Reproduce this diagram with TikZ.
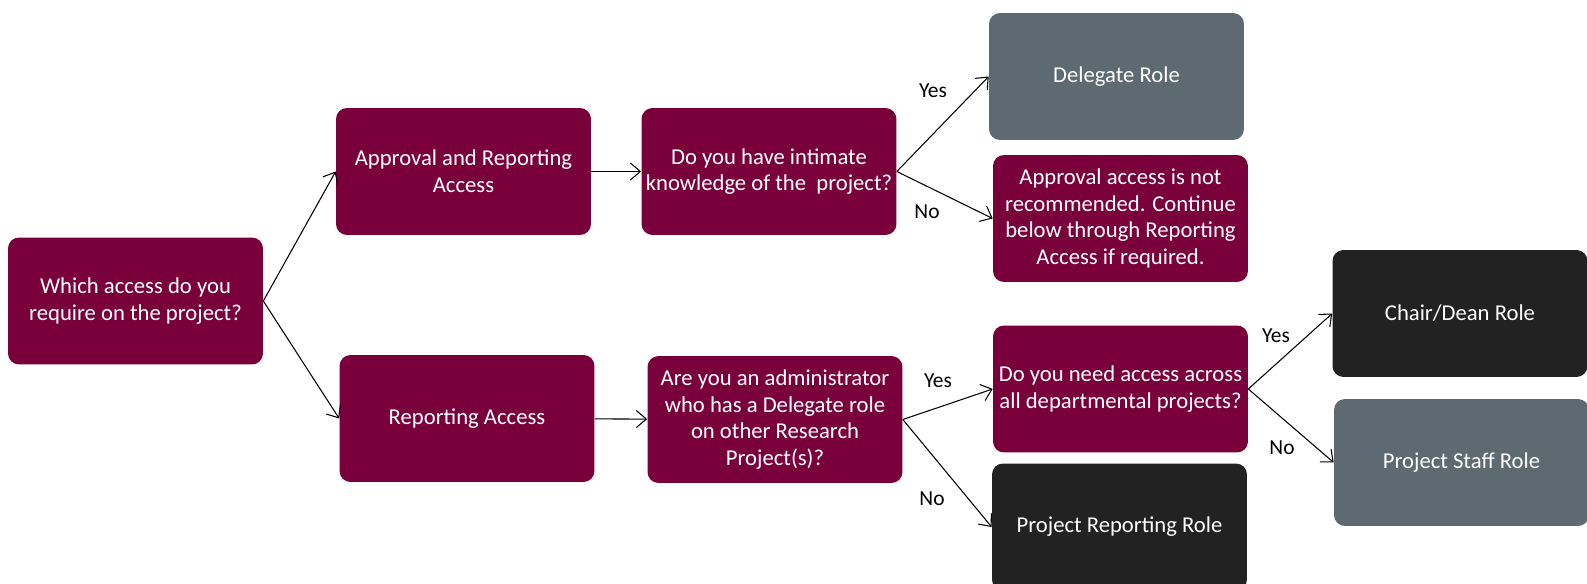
\documentclass[tikz,border=0pt]{standalone}
\usepackage{fontspec}
\setmainfont{Carlito}
\usetikzlibrary{arrows.meta}
\definecolor{maroon}{RGB}{122,0,60}
\definecolor{slate}{RGB}{94,106,113}
\definecolor{charcoal}{RGB}{34,34,34}

\begin{document}
\begin{tikzpicture}[x=0.02cm, y=-0.02cm]
    % Define styles
    \tikzstyle{box} = [rectangle, rounded corners=0.22cm, text=white, align=center, minimum width=5.1cm, minimum height=2.54cm, inner sep=0pt, font=\fontsize{12.9}{15.2}\selectfont]
    \tikzstyle{question} = [box, fill=maroon]
    \tikzstyle{role} = [box, fill=charcoal]
    \tikzstyle{altrole} = [box, fill=slate]
    \tikzstyle{arrow} = [semithick, -{Straight Barb[length=2mm,width=3.4mm]}]
    \tikzstyle{answer} = [font=\fontsize{12.2}{14}\selectfont]

    \useasboundingbox (0,0) rectangle (1587,584);

    % Nodes
    \node [question] (which) at (135.5,301) {Which access do you\\require on the project?};
    \node [question] (approval) at (463.5,171.5) {Approval and Reporting\\Access};
    \node [question] (reporting) at (467,418.5) {Reporting Access};
    \node [question] (intimate) at (769,171.5) {Do you have intimate\\knowledge of the\ \ project?};
    \node [question] (admin) at (775,419.5) {Are you an administrator\\who has a Delegate role\\on other Research\\Project(s)?};
    \node [altrole] (delegate) at (1116.5,76.5) {Delegate Role};
    \node [question] (notrec) at (1120.5,218.5) {Approval access is not\\recommended. Continue\\below through Reporting\\Access if required.};
    \node [question] (needall) at (1120.5,389) {Do you need access across\\all departmental projects?};
    \node [role] (projrep) at (1119.5,527) {Project Reporting Role};
    \node [role] (chair) at (1460,313.5) {Chair/Dean Role};
    \node [altrole] (staff) at (1461.5,462.5) {Project Staff Role};

    % Answers
    \node [answer] (yes1) at (933,91) {Yes};
    \node [answer] (no1) at (927,212) {No};
    \node [answer] (yes2) at (938,381) {Yes};
    \node [answer] (no2) at (932,499) {No};
    \node [answer] (yes3) at (1276,336) {Yes};
    \node [answer] (no3) at (1282,448) {No};

    % Arrows
    \draw [arrow] (which.east) -- (approval.west);
    \draw [arrow] (which.east) -- (reporting.west);
    \draw [arrow] (approval) -- (intimate);
    \draw [arrow] (reporting) -- (admin);
    \draw [arrow] (intimate.east) -- (delegate.west);
    \draw [arrow] (intimate.east) -- (notrec.west);
    \draw [arrow] (admin.east) -- (needall.west);
    \draw [arrow] (admin.east) -- (projrep.west);
    \draw [arrow] (needall.east) -- (chair.west);
    \draw [arrow] (needall.east) -- (staff.west);
\end{tikzpicture}
\end{document}
